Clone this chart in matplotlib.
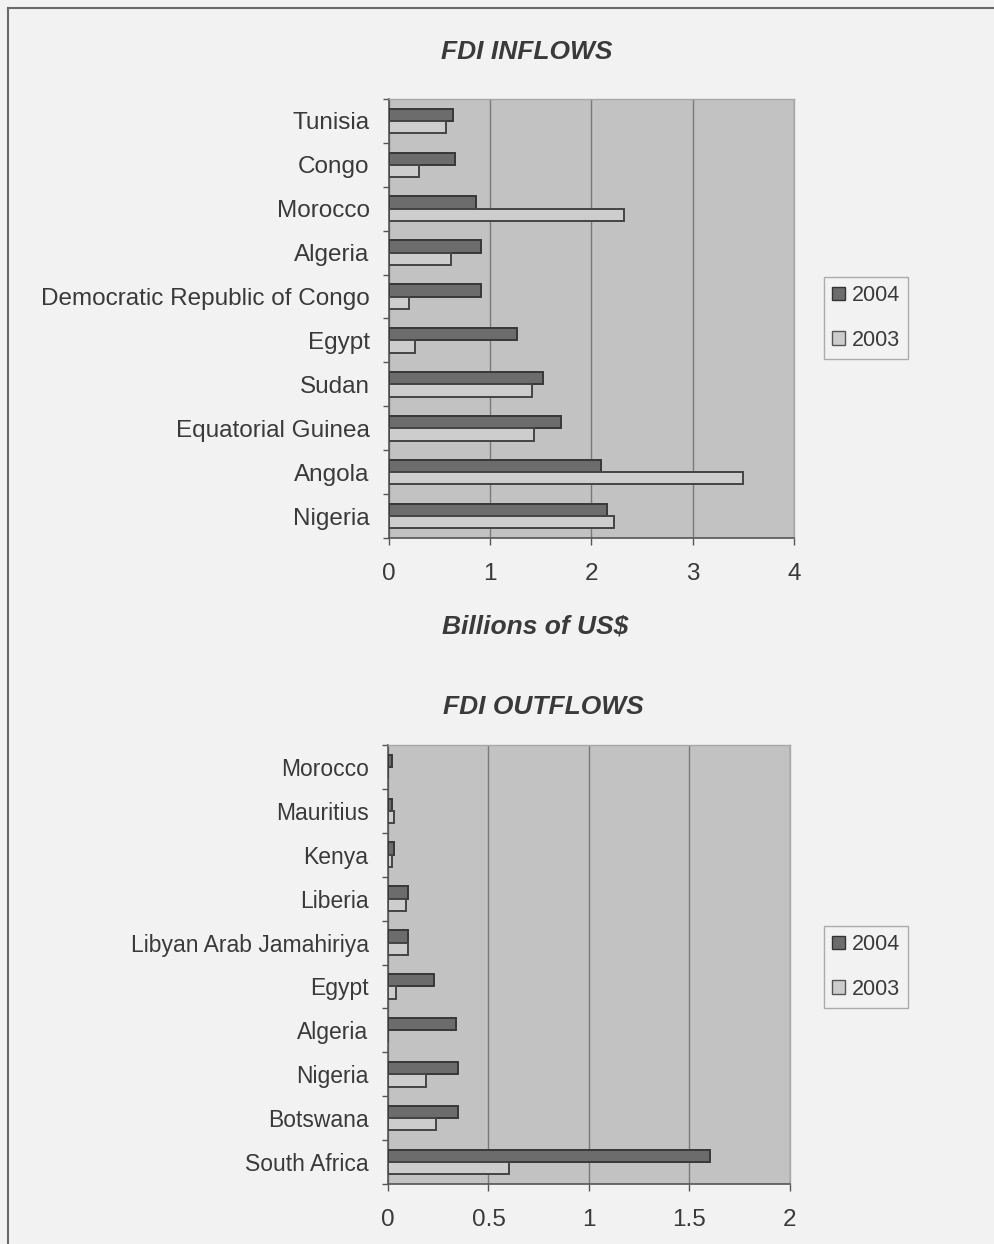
import matplotlib
matplotlib.use("Agg")
import matplotlib.pyplot as plt
from matplotlib.patches import Patch
from matplotlib.lines import Line2D
import numpy as np

plt.rcParams['font.family'] = ['Liberation Sans', 'DejaVu Sans']

# FDI inflows, billions of US$ (listed bottom to top as drawn)
in_countries = ['Nigeria', 'Angola', 'Equatorial Guinea', 'Sudan', 'Egypt',
                'Democratic Republic of Congo', 'Algeria', 'Morocco', 'Congo', 'Tunisia']
in_2004 = [2.15, 2.09, 1.70, 1.52, 1.26, 0.91, 0.91, 0.86, 0.65, 0.63]
in_2003 = [2.22, 3.50, 1.43, 1.41, 0.26, 0.20, 0.61, 2.32, 0.30, 0.56]

# FDI outflows, billions of US$
out_countries = ['South Africa', 'Botswana', 'Nigeria', 'Algeria', 'Egypt',
                 'Libyan Arab Jamahiriya', 'Liberia', 'Kenya', 'Mauritius', 'Morocco']
out_2004 = [1.60, 0.35, 0.35, 0.34, 0.23, 0.10, 0.10, 0.03, 0.02, 0.02]
out_2003 = [0.60, 0.24, 0.19, 0.00, 0.04, 0.10, 0.09, 0.02, 0.03, 0.00]

years = ['2004', '2003']

txt = '#3a3a3a'
c04 = '#6c6c6c'
c03 = '#cdcdcd'
bg = '#c2c2c2'
fig_bg = '#f2f2f2'

fig = plt.figure(figsize=(9.95, 12.44), dpi=100)
fig.patch.set_facecolor(fig_bg)

ax1 = fig.add_axes([389 / 995, 1 - 538 / 1244, 405 / 995, 439 / 1244])
ax2 = fig.add_axes([388 / 995, 1 - 1184 / 1244, 402 / 995, 439 / 1244])


def draw(ax, countries, v04, v03, xmax, xticks, xticklabels, lab_size):
    y = np.arange(len(countries))
    h = 0.28
    ax.set_facecolor(bg)
    ax.barh(y + h / 2, v04, height=h, color=c04, edgecolor='#383838', linewidth=1.4, zorder=3)
    ax.barh(y - h / 2, v03, height=h, color=c03, edgecolor='#444444', linewidth=1.4, zorder=3)
    ax.set_xlim(0, xmax)
    ax.set_ylim(-0.5, len(countries) - 0.5)
    ax.set_yticks(y)
    ax.set_yticklabels(countries, fontsize=lab_size, color=txt)
    ax.set_yticks(np.arange(len(countries) + 1) - 0.5, minor=True)
    ax.tick_params(axis='y', which='major', length=0, pad=14)
    ax.tick_params(axis='y', which='minor', length=4, width=1, color='#555555', direction='out')
    ax.set_xticks(xticks)
    ax.set_xticklabels(xticklabels, fontsize=17.5, color=txt)
    ax.tick_params(axis='x', length=5, width=1, color='#555555', direction='out', pad=13)
    ax.grid(axis='x', color='#7a7a7a', linewidth=1, zorder=1)
    ax.set_axisbelow(True)
    for s in ['top', 'right']:
        ax.spines[s].set_color('#a8a8a8')
        ax.spines[s].set_linewidth(1)
    for s in ['left', 'bottom']:
        ax.spines[s].set_color('#555555')
        ax.spines[s].set_linewidth(1.2)
    handles = [Patch(facecolor=c04, edgecolor='#333333', label=years[0]),
               Patch(facecolor=c03, edgecolor='#555555', label=years[1])]
    return handles


h1 = draw(ax1, in_countries, in_2004, in_2003, 4, [0, 1, 2, 3, 4],
          ['0', '1', '2', '3', '4'], 17.5)
h2 = draw(ax2, out_countries, out_2004, out_2003, 2, [0, 0.5, 1, 1.5, 2],
          ['0', '0.5', '1', '1.5', '2'], 16.5)

for ax, hs, ly in [(ax1, h1, 318), (ax2, h2, 967)]:
    leg = fig.legend(handles=hs, loc='center', bbox_to_anchor=(866 / 995, 1 - ly / 1244),
                     fontsize=15.5, frameon=True, fancybox=False, handlelength=0.6,
                     handleheight=0.6, handletextpad=0.3, labelspacing=1.1,
                     borderpad=0.4, labelcolor=txt)
    leg.get_frame().set_edgecolor('#9a9a9a')
    leg.get_frame().set_facecolor(fig_bg)
    leg.get_frame().set_linewidth(1)

title_kw = dict(fontsize=19, fontweight='bold', fontstyle='italic', color=txt,
                ha='center', va='center')
fig.text(527 / 995, 1 - 52 / 1244, 'FDI INFLOWS', **title_kw)
fig.text(535 / 995, 1 - 627 / 1244, 'Billions of US$', **title_kw)
fig.text(543 / 995, 1 - 707 / 1244, 'FDI OUTFLOWS', **title_kw)

# outer frame (left and top edges visible)
fig.add_artist(Line2D([8 / 995, 8 / 995], [0, 1 - 8 / 1244], transform=fig.transFigure,
                      color='#6a6a6a', linewidth=1.5))
fig.add_artist(Line2D([8 / 995, 1], [1 - 8 / 1244, 1 - 8 / 1244], transform=fig.transFigure,
                      color='#6a6a6a', linewidth=1.5))

fig.savefig('out.png', dpi=100, facecolor=fig_bg)
